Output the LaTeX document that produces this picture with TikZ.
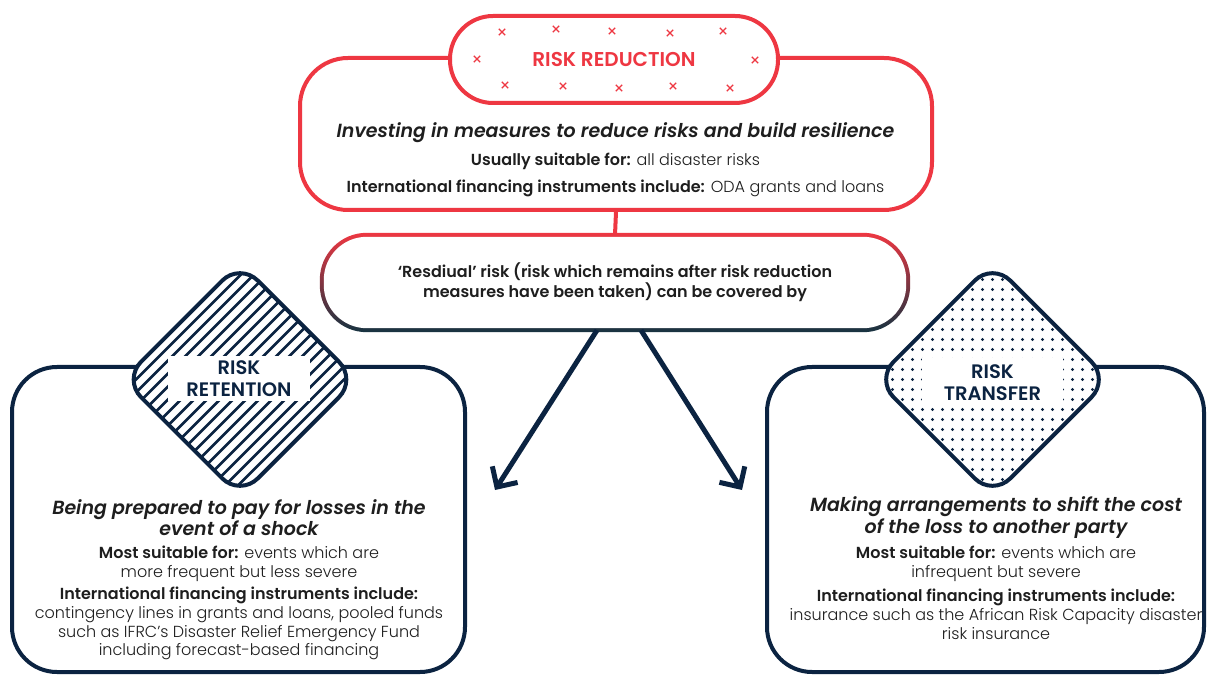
\documentclass[tikz,border=0pt]{standalone}
\usepackage{fontspec}
\setmainfont{Poppins}[UprightFont=* Light, BoldFont=* SemiBold,
    ItalicFont=* Light Italic, BoldItalicFont=* SemiBold Italic]
\usetikzlibrary{arrows.meta,positioning,shapes.geometric,calc}
\definecolor{riskred}{HTML}{EE3742}
\definecolor{navy}{HTML}{0B2341}
\definecolor{slate}{HTML}{163341}
\definecolor{ink}{HTML}{1E1E1E}

\begin{document}
\begin{tikzpicture}[
          x=1pt, y=1pt, font=\fontsize{16}{18.8}\selectfont,
          redbox/.style={rectangle, draw=riskred, line width=4pt, fill=white,
              rounded corners=48pt, inner sep=0pt},
          pill/.style={rectangle, draw=riskred, line width=4pt, fill=white,
              rounded corners=43pt, inner sep=0pt, text=riskred,
              font=\bfseries\fontsize{20}{22}\selectfont},
          navybox/.style={rectangle, draw=navy, line width=4pt, fill=white,
              rounded corners=45pt, inner sep=0pt},
          gem/.style={diamond, draw=navy, line width=4pt, fill=white,
              rounded corners=25pt, minimum width=235pt, minimum height=235pt,
              inner sep=0pt},
          tag/.style={fill=white, text=navy, align=center, inner sep=0pt,
              font=\bfseries\fontsize{19.5}{22}\selectfont},
          head/.style={font=\bfseries\itshape\fontsize{19}{21.5}\selectfont,
              text=ink, align=center},
          body/.style={text=ink, align=center},
          arr/.style={-{Straight Barb[length=15pt,width=30pt]}, line width=5pt,
              draw=navy},
          xmark/.style={draw=riskred, line width=1.2pt}
      ]
      \useasboundingbox (0,0) rectangle (1208,-676);
      % risk reduction
      \node[redbox, minimum width=632pt, minimum height=152pt] (reduce) at (616,-134) {};
      \node[pill, minimum width=328pt, minimum height=87pt] (pill) at (614,-59.5) {RISK REDUCTION};
      \foreach \x/\y in {502/32, 556/29, 612/31, 670/33, 723/31, 477/59, 755/60,
                         505/85, 563/86, 619/88, 673/86, 730/88}
        \draw[xmark] (\x,-\y) +(-3.2,-3.2) -- +(3.2,3.2) +(-3.2,3.2) -- +(3.2,-3.2);
      \node[head] (reducehead) at (615.5,-132.5) {Investing in measures to reduce risks and build resilience};
      \node[body] (reducefor) at (615.5,-161) {\textbf{Usually suitable for:} all disaster risks};
      \node[body] (reduceinst) at (615.5,-188) {\textbf{International financing instruments include:} ODA grants and loans};
      % residual risk
      \node[minimum width=586pt, minimum height=95pt, inner sep=0pt] (resid) at (615,-282.5) {};
      \draw[riskred, line width=4pt] (reduce.south) -- (resid.north);
      \shade[top color=riskred, bottom color=slate, rounded corners=47pt]
          ($(resid.south west)+(-2,-2)$) rectangle ($(resid.north east)+(2,2)$);
      \fill[white, rounded corners=43pt]
          ($(resid.south west)+(2,2)$) rectangle ($(resid.north east)+(-2,-2)$);
      \node[body, font=\bfseries\fontsize{16}{20}\selectfont] (residtxt) at (resid.center)
          {‘Resdiual’ risk (risk which remains after risk reduction\\measures have been taken) can be covered by};
      \coordinate (tipL) at (495,-490);
      \coordinate (tipR) at (742,-490);
      \draw[arr] ([xshift=-18pt]resid.south) -- (tipL);
      \draw[arr] ([xshift=26pt]resid.south) -- (tipR);
      % risk retention
      \node[navybox, minimum width=453pt, minimum height=305pt] (retain) at (238.5,-519.5) {};
      \node[gem, path picture={
              \foreach \i in {-260,-247,...,260}
                \draw[navy, line width=2.5pt]
                  ($(path picture bounding box.center)+(\i-130,-130)$) -- ++(260,260);
          }] (retaingem) at (240,-379.5) {};
      \node[tag, minimum width=142pt, minimum height=44pt] (retaintag) at (239,-378.5) {RISK\\RETENTION};
      \node[head] (retainhead) at (239,-517.5) {Being prepared to pay for losses in the\\event of a shock};
      \node[body] (retainfor) at (239,-563.5) {\textbf{Most suitable for:} events which are\\more frequent but less severe};
      \node[body] (retaininst) at (239,-623.5) {\textbf{International financing instruments include:}\\contingency lines in grants and loans, pooled funds\\such as IFRC’s Disaster Relief Emergency Fund\\including forecast-based financing};
      % risk transfer
      \node[navybox, minimum width=437pt, minimum height=305pt] (transfer) at (985.5,-519.5) {};
      \node[gem, path picture={
              \foreach \u in {-12,...,12}
                \foreach \v in {-12,...,12}
                  \fill[navy] ($(path picture bounding box.center)+(10*\u,10*\v)$) circle (1.7pt);
          }] (transfergem) at (992.5,-379.5) {};
      \node[tag, minimum width=141pt, minimum height=49pt] (transfertag) at (992.5,-382.5) {RISK\\TRANSFER};
      \node[head] (transferhead) at (996,-517.5) {Making arrangements to shift the cost\\of the loss to another party};
      \node[body] (transferfor) at (996,-563.5) {\textbf{Most suitable for:} events which are\\infrequent but severe};
      \node[body] (transferinst) at (996,-614.5) {\textbf{International financing instruments include:}\\insurance such as the African Risk Capacity disaster\\risk insurance};
\end{tikzpicture}
\end{document}
